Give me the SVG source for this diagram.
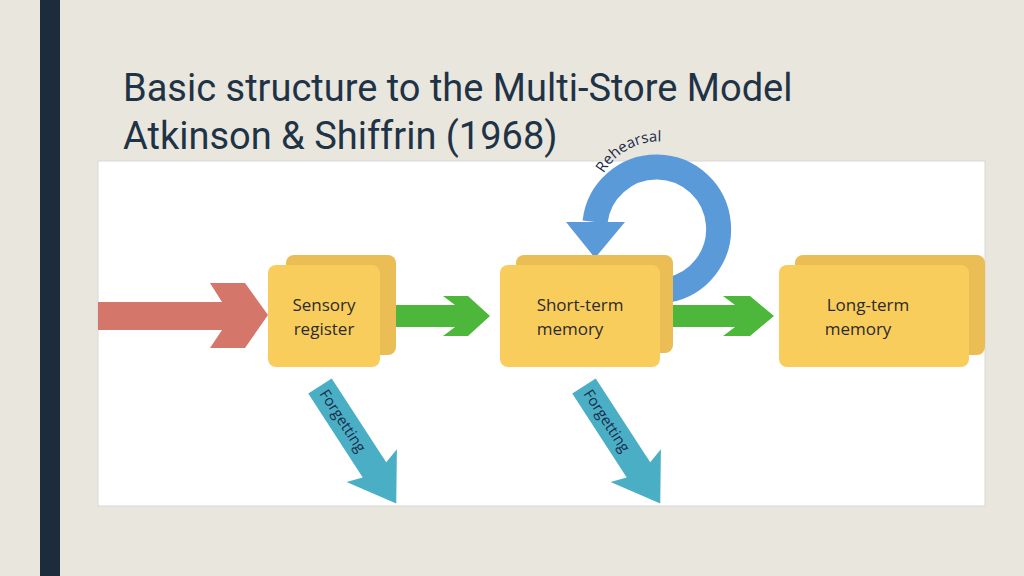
<svg xmlns="http://www.w3.org/2000/svg" width="1024" height="576" viewBox="0 0 1024 576">
<defs>
<style>
.lbl{font-family:"Open Sans","Liberation Sans",sans-serif;font-size:17px;fill:#2b2b2b;text-anchor:middle}
.front{fill:#f9cd5c}
.back{fill:#eabd55}
.nav{font-family:"Open Sans","Liberation Sans",sans-serif;font-size:15px;fill:#1c2b4a}
</style>
<path id="rp" d="M596,196 A62,62 0 0 1 722,214"/>
</defs>
<rect width="1024" height="576" fill="#e9e6dd"/>
<rect x="40" y="0" width="20" height="576" fill="#1c2c3d"/>
<text x="123" y="101" font-family="Roboto,'Liberation Sans',sans-serif" font-size="38" fill="#1f3347">Basic structure to the Multi-Store Model</text>
<text x="123" y="149" font-family="Roboto,'Liberation Sans',sans-serif" font-size="38" fill="#1f3347">Atkinson &amp; Shiffrin (1968)</text>
<rect x="98" y="161" width="887" height="345" fill="#ffffff" stroke="#d8d8d8"/>
<g id="connectors">
<polygon points="98,302 222,302 210,283 245,283 268,315 245,348 210,348 222,330 98,330" fill="#d4766a"/>
<polygon points="390,305 455,305 443,296 468,296 490,316 468,336 443,336 455,327 390,327" fill="#4cb73a"/>
<polygon points="670,305 735,305 723,296 750,296 774,316 750,336 723,336 735,327 670,327" fill="#4cb73a"/>
<path d="M668,290 A62,62 0 1 0 595,222" fill="none" stroke="#5b9ad9" stroke-width="25"/>
<polygon points="566,222 625,222 595,258" fill="#5b9ad9"/>
<text class="nav"><textPath href="#rp" startOffset="12%">Rehearsal</textPath></text>
<g transform="translate(320,386) rotate(57)">
<polygon points="0,-14 100,-14 95,-30 140,0 95,30 100,14 0,14" fill="#4aafc5"/>
<text class="nav" x="6" y="5">Forgetting</text>
</g>
<g transform="translate(584,386) rotate(57)">
<polygon points="0,-14 100,-14 95,-30 140,0 95,30 100,14 0,14" fill="#4aafc5"/>
<text class="nav" x="6" y="5">Forgetting</text>
</g>
</g>
<g id="sensory">
<rect class="back" x="286" y="255" width="110" height="100" rx="8"/>
<rect class="front" x="268" y="265" width="112" height="102" rx="8"/>
<text class="lbl" x="324" y="311">Sensory</text>
<text class="lbl" x="324" y="335">register</text>
</g>
<g id="stm">
<rect class="back" x="516" y="255" width="157" height="98" rx="8"/>
<rect class="front" x="500" y="265" width="160" height="102" rx="8"/>
<text class="lbl" x="580" y="311">Short-term</text>
<text class="lbl" x="570" y="335">memory</text>
</g>
<g id="ltm">
<rect class="back" x="795" y="255" width="190" height="100" rx="8"/>
<rect class="front" x="779" y="265" width="190" height="102" rx="8"/>
<text class="lbl" x="868" y="311">Long-term</text>
<text class="lbl" x="858" y="335">memory</text>
</g>
</svg>
